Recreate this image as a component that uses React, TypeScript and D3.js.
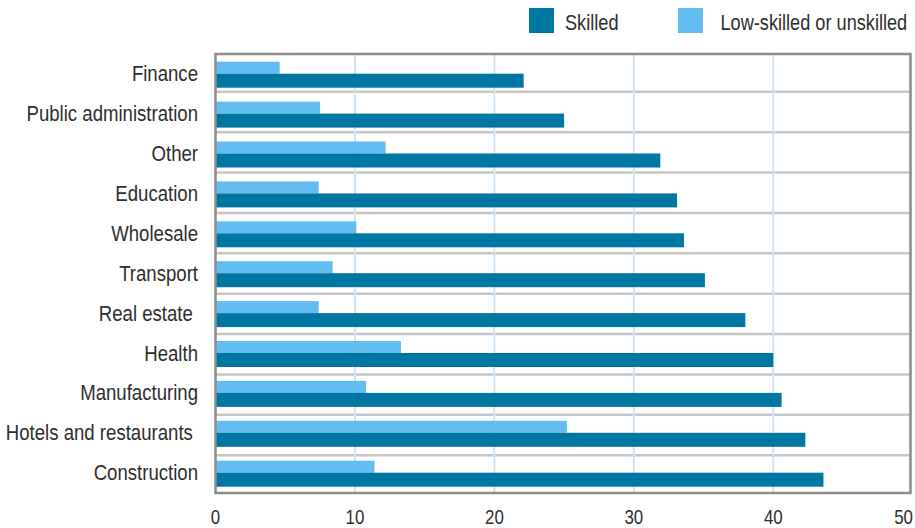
import React from "react";
import * as d3 from "d3";

const categories = [
  "Finance",
  "Public administration",
  "Other",
  "Education",
  "Wholesale",
  "Transport",
  "Real estate ",
  "Health",
  "Manufacturing",
  "Hotels and restaurants ",
  "Construction",
];
const skilled = [22.1, 25.0, 31.9, 33.1, 33.6, 35.1, 38.0, 40.0, 40.6, 42.3, 43.6];
const lowSkilled = [4.6, 7.5, 12.2, 7.4, 10.1, 8.4, 7.4, 13.3, 10.8, 25.2, 11.4];
const xTicks = [0, 10, 20, 30, 40, 50];
const seriesNames = ["Skilled", "Low-skilled or unskilled"];

const WIDTH = 915;
const HEIGHT = 528;
const DARK = "#0076a2";
const LIGHT = "#63bdf0";
const TEXT = "#2e2e2e";
const FONT = "'Liberation Sans', Arial, sans-serif";
// horizontal squeeze that turns the regular face into a narrow one
const NARROW = 0.845;

const frame = { left: 215.5, right: 910.5, top: 54, bottom: 493 };

type NarrowTextProps = {
  x: number;
  y: number;
  size: number;
  anchor?: "start" | "middle" | "end";
  children: React.ReactNode;
};

function NarrowText({ x, y, size, anchor = "start", children }: NarrowTextProps) {
  return (
    <text
      transform={`translate(${x},${y}) scale(${NARROW},1)`}
      textAnchor={anchor}
      fontSize={size}
      fill={TEXT}
      style={{ whiteSpace: "pre" }}
    >
      {children}
    </text>
  );
}

export default function App() {
  const x = d3.scaleLinear().domain([0, 50]).range([215.5, 912.7]);
  // bar bands
  const yBar = d3.scaleBand<string>().domain(categories).range([54.75, 493.65]).padding(0);
  // row separators
  const yRow = d3.scaleBand<string>().domain(categories).range([51.5, 495.5]).padding(0);

  return (
    <svg
      width={WIDTH}
      height={HEIGHT}
      style={{ position: "absolute", left: 0, top: 0, display: "block", background: "#fff" }}
      fontFamily={FONT}
    >
      {/* row separators */}
      {categories.slice(1).map((c) => (
        <line
          key={"sep-" + c}
          x1={frame.left}
          x2={frame.right}
          y1={yRow(c)!}
          y2={yRow(c)!}
          stroke="#c6c6c6"
          strokeWidth={2.5}
        />
      ))}
      {/* vertical gridlines */}
      {xTicks.slice(1, -1).map((t) => (
        <line
          key={"grid-" + t}
          x1={x(t)}
          x2={x(t)}
          y1={frame.top}
          y2={frame.bottom}
          stroke="#cfe4f2"
          strokeWidth={2}
        />
      ))}
      {/* bars */}
      {categories.map((c, i) => {
        const cy = yBar(c)! + yBar.bandwidth() / 2;
        return (
          <g key={"bars-" + c}>
            <rect
              x={x(0)}
              y={cy - 13}
              width={x(lowSkilled[i]) - x(0)}
              height={12}
              fill={LIGHT}
            />
            <rect
              x={x(0)}
              y={cy - 1}
              width={x(skilled[i]) - x(0)}
              height={14}
              fill={DARK}
            />
          </g>
        );
      })}
      {/* frame */}
      <rect
        x={frame.left}
        y={frame.top}
        width={frame.right - frame.left}
        height={frame.bottom - frame.top}
        fill="none"
        stroke="#8c8c8c"
        strokeWidth={2.5}
      />
      {/* category labels */}
      {categories.map((c) => {
        const cy = yBar(c)! + yBar.bandwidth() / 2;
        return (
          <NarrowText key={"lab-" + c} x={198} y={cy + 6.5} size={22} anchor="end">
            {c}
          </NarrowText>
        );
      })}
      {/* x tick labels */}
      {xTicks.map((t, i) => {
        const last = i === xTicks.length - 1;
        return (
          <NarrowText
            key={"tick-" + t}
            x={last ? 913 : x(t)}
            y={523.5}
            size={20}
            anchor={last ? "end" : "middle"}
          >
            {t}
          </NarrowText>
        );
      })}
      {/* legend */}
      <rect x={529} y={8} width={25} height={25} fill={DARK} />
      <NarrowText x={565} y={29.5} size={21.5}>
        {seriesNames[0]}
      </NarrowText>
      <rect x={678} y={8} width={25} height={25} fill={LIGHT} />
      <NarrowText x={720.5} y={29.5} size={21.5}>
        {seriesNames[1]}
      </NarrowText>
    </svg>
  );
}
